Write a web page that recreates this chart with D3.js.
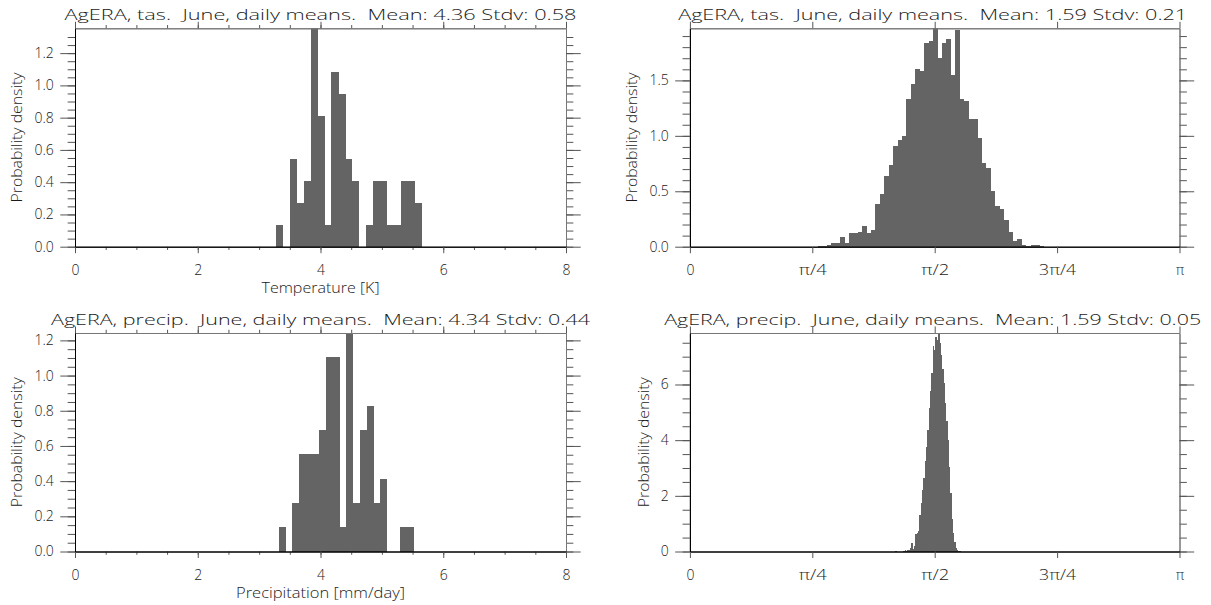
<!DOCTYPE html>
<html>
<head>
<meta charset="utf-8">
<script src="https://cdn.jsdelivr.net/npm/d3@7"></script>
<style>
  html, body { margin: 0; padding: 0; background: #fff; }
  svg { display: block; font-family: "Open Sans", "Liberation Sans", Arial, sans-serif; font-weight: 300; }
  .title { white-space: pre; }
</style>
</head>
<body>
<svg id="chart" width="1211" height="605"></svg>
<script>
// Histograms: bin start, bin width, density per bin
const tasTempStart = 3.275
const tasTempWidth = 0.1128
const tasTempDensity = [0.135, 0, 0.541, 0.271, 0.406, 1.354, 0.812, 0.135, 1.083, 0.948, 0.541,
    0.406, 0, 0.135, 0.406, 0.406, 0.135, 0.135, 0.406, 0.406, 0.271]

const precipStart = 3.324
const precipWidth = 0.1097
const precipDensity = [0.138, 0, 0.276, 0.552, 0.552, 0.552, 0.690, 1.104, 1.104, 0.138, 1.242,
    0.276, 0.690, 0.828, 0.276, 0.414, 0, 0, 0.138, 0.138]

const tasAngleStart = 0.820
const tasAngleWidth = 0.02845
const tasAngleDensity = [0.003, 0.006, 0.015, 0.033, 0.033, 0.087, 0.033, 0.123, 0.123, 0.135,
    0.183, 0.120, 0.150, 0.389, 0.473, 0.638, 0.734, 0.904, 0.961, 1.003, 1.332, 1.470, 1.605,
    1.587, 1.838, 1.856, 1.970, 1.700, 1.838, 1.874, 1.551, 1.955, 1.335, 1.317, 1.156, 1.156,
    0.985, 0.751, 0.707, 0.500, 0.365, 0.338, 0.240, 0.135, 0.048, 0.069, 0.015, 0.006, 0.015,
    0.015, 0.006]

const precipAngleStart = 1.318
const precipAngleWidth = 0.008556
const precipAngleDensity = [0.02, 0, 0, 0, 0, 0, 0.03, 0.05, 0.02, 0.07, 0.05, 0.12, 0.30, 0.10,
    0.18, 0.62, 0.68, 0.72, 1.30, 1.75, 2.20, 2.65, 3.25, 3.75, 4.35, 5.15, 5.75, 6.40, 7.40, 7.25,
    7.70, 7.60, 7.85, 7.50, 7.05, 6.55, 6.05, 5.35, 4.70, 4.00, 3.05, 2.10, 1.15, 0.65, 0.35, 0.12,
    0.05, 0.02, 0.01]

const titles = [
    'AgERA, tas.  June, daily means.  Mean: 4.36 Stdv: 0.58',
    'AgERA, tas.  June, daily means.  Mean: 1.59 Stdv: 0.21',
    'AgERA, precip.  June, daily means.  Mean: 4.34 Stdv: 0.44',
    'AgERA, precip.  June, daily means.  Mean: 1.59 Stdv: 0.05'
]
const xTitles = ['Temperature [K]', '', 'Precipitation [mm/day]', '']
const yTitle = 'Probability density'

const linearTicks = [0, 2, 4, 6, 8]
const piTicks = [0, Math.PI / 4, Math.PI / 2, 3 * Math.PI / 4, Math.PI]
const piTickLabels = ['0', 'π/4', 'π/2', '3π/4', 'π']

// Layout
const row = [{ top: 28.3, bottom: 246.7 }, { top: 333, bottom: 551.5 }]
const col = [{ left: 75, right: 566 }, { left: 689.9, right: 1179.5 }]
const barColor = '#646464'
const textColor = '#1a1a1a'
const xTickLen = 6.5
const yTickLen = 14.7
const piLabelLen = [0, 28, 28, 37, 0]

const panels = [
    { r: 0, c: 0, start: tasTempStart, width: tasTempWidth, density: tasTempDensity,
      yTicks: d3.range(0, 1.21, 0.2), yMinor: 0.05, yFormat: '.1f', titleLen: 512, xTitleLen: 118 },
    { r: 0, c: 1, start: tasAngleStart, width: tasAngleWidth, density: tasAngleDensity,
      yTicks: d3.range(0, 1.51, 0.5), yMinor: 0.1, yFormat: '.1f', titleLen: 509 },
    { r: 1, c: 0, start: precipStart, width: precipWidth, density: precipDensity,
      yTicks: d3.range(0, 1.21, 0.2), yMinor: 0.05, yFormat: '.1f', titleLen: 539, xTitleLen: 169 },
    { r: 1, c: 1, start: precipAngleStart, width: precipAngleWidth, density: precipAngleDensity,
      yTicks: d3.range(0, 6.1, 2), yMinor: 0.5, yFormat: 'd', titleLen: 537 }
]

const svg = d3.select('#chart')

const styleAxis = (g, domainColor) => {
    g.select('.domain').attr('stroke', domainColor).attr('stroke-width', 1)
    g.selectAll('.tick line').attr('stroke', '#555').attr('stroke-width', 1)
    g.selectAll('.tick text').attr('fill', textColor).style('font-size', '14px')
    g.attr('font-family', null).attr('font-size', null)
}

panels.forEach((p, i) => {
    const { top, bottom } = row[p.r]
    const { left, right } = col[p.c]
    const isPi = p.c === 1

    // Scales
    const x = d3.scaleLinear()
        .domain(isPi ? [0, Math.PI] : [0, 8])
        .range([left, right])
    const yMax = d3.max(p.density)
    const y = d3.scaleLinear()
        .domain([0, yMax])
        .range([bottom, top])

    const panel = svg.append('g').classed('panel', true)

    // Bars
    panel.append('g')
        .selectAll('rect.bar')
        .data(p.density)
        .enter()
        .append('rect')
        .classed('bar', true)
        .attr('x', (_, k) => x(p.start + k * p.width))
        .attr('width', (_, k) => x(p.start + (k + 1) * p.width) - x(p.start + k * p.width) + 0.3)
        .attr('y', d => y(d))
        .attr('height', d => y(0) - y(d))
        .attr('fill', barColor)
        .attr('shape-rendering', 'crispEdges')

    // Axes
    const xMajor = isPi ? piTicks : linearTicks
    const xMinor = isPi ? [] : d3.range(0, 8.01, 0.5)
    const yMinorVals = d3.range(0, yMax, p.yMinor).filter(v => y(v) > top + 1)

    const bottomAxis = d3.axisBottom(x).tickValues(xMajor).tickSize(xTickLen).tickSizeOuter(0).tickPadding(12)
        .tickFormat((d, k) => isPi ? piTickLabels[k] : d3.format('d')(d))
    const bottomMinor = d3.axisBottom(x).tickValues(xMinor).tickSize(xTickLen / 2).tickSizeOuter(0).tickFormat('')
    const topAxis = d3.axisTop(x).tickValues(xMajor).tickSize(xTickLen).tickSizeOuter(0).tickFormat('')
    const topMinor = d3.axisTop(x).tickValues(xMinor).tickSize(xTickLen / 2).tickSizeOuter(0).tickFormat('')
    const leftAxis = d3.axisLeft(y).tickValues(p.yTicks).tickSize(yTickLen).tickSizeOuter(0).tickPadding(6.5)
        .tickFormat(d3.format(p.yFormat))
    const leftMinor = d3.axisLeft(y).tickValues(yMinorVals).tickSize(yTickLen / 2).tickSizeOuter(0).tickFormat('')
    const rightAxis = d3.axisRight(y).tickValues(p.yTicks).tickSize(yTickLen).tickSizeOuter(0).tickFormat('')
    const rightMinor = d3.axisRight(y).tickValues(yMinorVals).tickSize(yTickLen / 2).tickSizeOuter(0).tickFormat('')

    panel.append('g').attr('transform', `translate(0, ${top})`).call(topMinor).call(styleAxis, '#777')
    panel.append('g').attr('transform', `translate(0, ${top})`).call(topAxis).call(styleAxis, '#777')
    panel.append('g').attr('transform', `translate(${right}, 0)`).call(rightMinor).call(styleAxis, '#777')
    panel.append('g').attr('transform', `translate(${right}, 0)`).call(rightAxis).call(styleAxis, '#777')
    panel.append('g').attr('transform', `translate(0, ${bottom})`).call(bottomMinor).call(styleAxis, '#000')
    const xAxisG = panel.append('g').attr('transform', `translate(0, ${bottom})`).call(bottomAxis).call(styleAxis, '#000')
    panel.append('g').attr('transform', `translate(${left}, 0)`).call(leftMinor).call(styleAxis, '#000')
    const yAxisG = panel.append('g').attr('transform', `translate(${left}, 0)`).call(leftAxis).call(styleAxis, '#000')

    // the Hershey-style pi labels are wider than the sans glyphs
    if (isPi) {
        xAxisG.selectAll('.tick text')
            .filter((_, k) => piLabelLen[k] > 0)
            .attr('textLength', (_, k, nodes) => piLabelLen[piTickLabels.indexOf(nodes[k].textContent)])
            .attr('lengthAdjust', 'spacingAndGlyphs')
    }

    // Title
    panel.append('text')
        .classed('title', true)
        .attr('x', (left + right) / 2 - (isPi ? 2 : 0))
        .attr('y', top - 8.5)
        .attr('text-anchor', 'middle')
        .attr('textLength', p.titleLen)
        .attr('lengthAdjust', 'spacingAndGlyphs')
        .style('font-size', '15px')
        .attr('fill', textColor)
        .text(titles[i])

    // X title
    if (xTitles[i]) {
        panel.append('text')
            .attr('x', (left + right) / 2)
            .attr('y', bottom + 46.5)
            .attr('text-anchor', 'middle')
            .attr('textLength', p.xTitleLen)
            .attr('lengthAdjust', 'spacingAndGlyphs')
            .style('font-size', '14px')
            .attr('fill', textColor)
            .text(xTitles[i])
    }

    // Y title, placed left of the widest tick label
    const labelLeft = d3.min(yAxisG.selectAll('.tick text').nodes(), n => n.getBoundingClientRect().left)
    const yt = labelLeft - 17
    panel.append('text')
        .attr('transform', `translate(${yt}, ${(top + bottom) / 2}) rotate(-90)`)
        .attr('text-anchor', 'middle')
        .attr('dy', '0.35em')
        .attr('textLength', 130)
        .attr('lengthAdjust', 'spacingAndGlyphs')
        .style('font-size', '14px')
        .attr('fill', textColor)
        .text(yTitle)
})
</script>
</body>
</html>
